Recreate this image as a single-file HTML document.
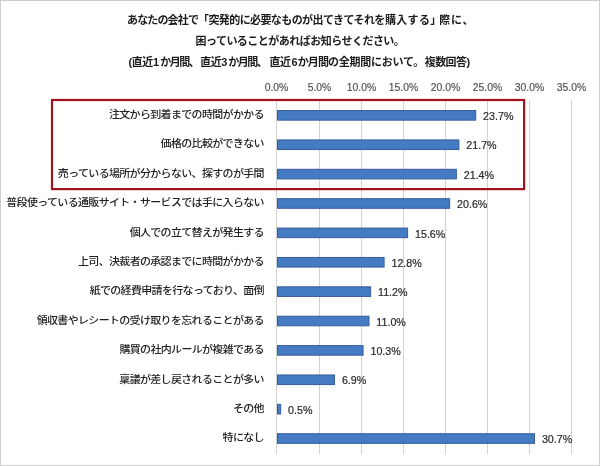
<!DOCTYPE html>
<html lang="ja"><head><meta charset="utf-8"><title>chart</title>
<style>
html,body{margin:0;padding:0;background:#fff;}
body{width:600px;height:466px;overflow:hidden;position:relative;font-family:"Liberation Sans","Noto Sans CJK JP",sans-serif;}
svg{position:absolute;left:0;top:0;display:block}
.t{font-weight:bold;font-size:11px;fill:#1c1c1c;letter-spacing:-0.5px}
.l{font-size:11px;font-weight:500;fill:#222;letter-spacing:-0.66px}
.a{font-size:10.4px;fill:#505050;stroke:#505050;stroke-width:0.15px}
.v{font-size:10.7px;fill:#2a2a2a;stroke:#2a2a2a;stroke-width:0.2px}
</style></head><body>
<svg width="600" height="466" viewBox="0 0 600 466">
<rect x="0.5" y="0.5" width="599" height="465" fill="#fff" stroke="#cdcdcd" stroke-width="1"/>

<line x1="276.50" y1="100" x2="276.50" y2="454" stroke="#d2d2d2" stroke-width="1"/>
<text class="a" x="276.50" y="90.8" text-anchor="middle">0.0%</text>
<line x1="319.50" y1="100" x2="319.50" y2="454" stroke="#d2d2d2" stroke-width="1"/>
<text class="a" x="319.50" y="90.8" text-anchor="middle">5.0%</text>
<line x1="361.50" y1="100" x2="361.50" y2="454" stroke="#d2d2d2" stroke-width="1"/>
<text class="a" x="361.50" y="90.8" text-anchor="middle">10.0%</text>
<line x1="403.50" y1="100" x2="403.50" y2="454" stroke="#d2d2d2" stroke-width="1"/>
<text class="a" x="403.50" y="90.8" text-anchor="middle">15.0%</text>
<line x1="445.50" y1="100" x2="445.50" y2="454" stroke="#d2d2d2" stroke-width="1"/>
<text class="a" x="445.50" y="90.8" text-anchor="middle">20.0%</text>
<line x1="487.50" y1="100" x2="487.50" y2="454" stroke="#d2d2d2" stroke-width="1"/>
<text class="a" x="487.50" y="90.8" text-anchor="middle">25.0%</text>
<line x1="529.50" y1="100" x2="529.50" y2="454" stroke="#d2d2d2" stroke-width="1"/>
<text class="a" x="529.50" y="90.8" text-anchor="middle">30.0%</text>
<line x1="571.50" y1="100" x2="571.50" y2="454" stroke="#d2d2d2" stroke-width="1"/>
<text class="a" x="571.50" y="90.8" text-anchor="middle">35.0%</text>
<rect x="277.50" y="110.55" width="198.20" height="9.6" fill="#447bc3" stroke="#375c9a" stroke-width="1"/>
<text class="v" x="483.10" y="120.00">23.7%</text>
<text class="l" transform="translate(263.9 118.10) scale(1 0.9)" x="0" y="0" text-anchor="end">注文から到着までの時間がかかる</text>
<rect x="277.50" y="139.93" width="181.39" height="9.6" fill="#447bc3" stroke="#375c9a" stroke-width="1"/>
<text class="v" x="466.29" y="149.38">21.7%</text>
<text class="l" transform="translate(263.9 147.48) scale(1 0.9)" x="0" y="0" text-anchor="end">価格の比較ができない</text>
<rect x="277.50" y="169.31" width="178.87" height="9.6" fill="#447bc3" stroke="#375c9a" stroke-width="1"/>
<text class="v" x="463.77" y="178.76">21.4%</text>
<text class="l" transform="translate(263.9 176.86) scale(1 0.9)" x="0" y="0" text-anchor="end">売っている場所が分からない、探すのが手間</text>
<rect x="277.50" y="198.69" width="172.14" height="9.6" fill="#447bc3" stroke="#375c9a" stroke-width="1"/>
<text class="v" x="457.04" y="208.14">20.6%</text>
<text class="l" transform="translate(263.9 206.24) scale(1 0.9)" x="0" y="0" text-anchor="end">普段使っている通販サイト・サービスでは手に入らない</text>
<rect x="277.50" y="228.07" width="130.12" height="9.6" fill="#447bc3" stroke="#375c9a" stroke-width="1"/>
<text class="v" x="415.02" y="237.52">15.6%</text>
<text class="l" transform="translate(263.9 235.62) scale(1 0.9)" x="0" y="0" text-anchor="end">個人での立て替えが発生する</text>
<rect x="277.50" y="257.45" width="106.58" height="9.6" fill="#447bc3" stroke="#375c9a" stroke-width="1"/>
<text class="v" x="391.48" y="266.90">12.8%</text>
<text class="l" transform="translate(263.9 265.00) scale(1 0.9)" x="0" y="0" text-anchor="end">上司、決裁者の承認までに時間がかかる</text>
<rect x="277.50" y="286.83" width="93.14" height="9.6" fill="#447bc3" stroke="#375c9a" stroke-width="1"/>
<text class="v" x="378.04" y="296.28">11.2%</text>
<text class="l" transform="translate(263.9 294.38) scale(1 0.9)" x="0" y="0" text-anchor="end">紙での経費申請を行なっており、面倒</text>
<rect x="277.50" y="316.21" width="91.45" height="9.6" fill="#447bc3" stroke="#375c9a" stroke-width="1"/>
<text class="v" x="376.36" y="325.66">11.0%</text>
<text class="l" transform="translate(263.9 323.76) scale(1 0.9)" x="0" y="0" text-anchor="end">領収書やレシートの受け取りを忘れることがある</text>
<rect x="277.50" y="345.59" width="85.57" height="9.6" fill="#447bc3" stroke="#375c9a" stroke-width="1"/>
<text class="v" x="370.47" y="355.04">10.3%</text>
<text class="l" transform="translate(263.9 353.14) scale(1 0.9)" x="0" y="0" text-anchor="end">購買の社内ルールが複雑である</text>
<rect x="277.50" y="374.97" width="56.99" height="9.6" fill="#447bc3" stroke="#375c9a" stroke-width="1"/>
<text class="v" x="341.89" y="384.42">6.9%</text>
<text class="l" transform="translate(263.9 382.52) scale(1 0.9)" x="0" y="0" text-anchor="end">稟議が差し戻されることが多い</text>
<rect x="277.50" y="404.35" width="3.20" height="9.6" fill="#447bc3" stroke="#375c9a" stroke-width="1"/>
<text class="v" x="288.10" y="413.80">0.5%</text>
<text class="l" transform="translate(263.9 411.90) scale(1 0.9)" x="0" y="0" text-anchor="end">その他</text>
<rect x="277.50" y="433.73" width="257.03" height="9.6" fill="#447bc3" stroke="#375c9a" stroke-width="1"/>
<text class="v" x="541.93" y="443.18">30.7%</text>
<text class="l" transform="translate(263.9 441.28) scale(1 0.9)" x="0" y="0" text-anchor="end">特になし</text>
<rect x="52" y="100" width="472.1" height="89.1" fill="none" stroke="#a3111b" stroke-width="2.2"/>
<text class="t" y="23.9"><tspan x="127" style="letter-spacing:-0.85px">あなたの会社で</tspan><tspan x="198" style="letter-spacing:-0.59px">「突発的に必要なものが出てきてそれを</tspan><tspan x="385" style="letter-spacing:0.3px">購入する」</tspan><tspan x="439.3" style="letter-spacing:0.8px">際に、</tspan></text>
<text class="t" x="195.5" y="45.4" style="letter-spacing:-0.52px">困っていることがあればお知らせください。</text>
<text class="t" y="66.2"><tspan x="128.5" style="letter-spacing:-0.42px">(直近1</tspan><tspan x="160.2" style="letter-spacing:-1.5px">か月間、</tspan><tspan x="200.2" style="letter-spacing:-0.42px">直近3</tspan><tspan x="228.3" style="letter-spacing:-1.5px">か月間、</tspan><tspan x="269.5" style="letter-spacing:-0.42px">直近</tspan><tspan x="291.6" style="letter-spacing:0px">6</tspan><tspan x="297.7" style="letter-spacing:-0.9px">か月間</tspan><tspan x="328" style="letter-spacing:-0.25px">の全期間において。</tspan><tspan x="424.75" style="letter-spacing:-0.57px">複数回答)</tspan></text>
</svg></body></html>
